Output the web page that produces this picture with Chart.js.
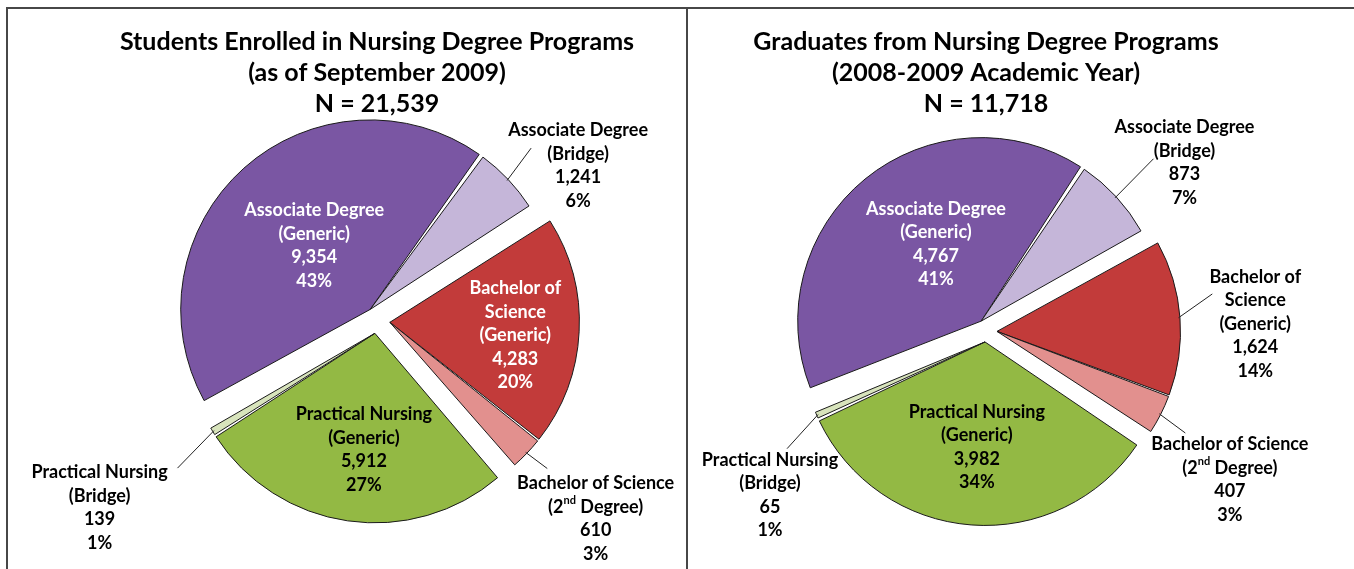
<!DOCTYPE html>
<html>
<head>
<meta charset="utf-8">
<title>Nursing Degree Programs</title>
<script src="https://cdn.jsdelivr.net/npm/chart.js@4.4.1/dist/chart.umd.min.js"></script>
<style>
  html, body { margin: 0; padding: 0; background: #fff; }
  body { width: 1354px; height: 569px; position: relative; overflow: hidden; }
  .rule { position: absolute; background: #474747; }
  #enrolledChart { position: absolute; left: 0; top: 0; }
  #graduatesChart { position: absolute; left: 618px; top: 0; }
</style>
</head>
<body>
<div class="rule" style="left:6px; top:7px; width:1348px; height:2px;"></div>
<div class="rule" style="left:6px; top:7px; width:2px; height:562px;"></div>
<div class="rule" style="left:686px; top:7px; width:2px; height:562px;"></div>
<canvas id="enrolledChart" width="754" height="569"></canvas>
<canvas id="graduatesChart" width="736" height="569"></canvas>
<script>
// categories (one entry per slice, each split into label lines)
const categories = [
    ['Associate Degree', '(Generic)'],
    ['Associate Degree', '(Bridge)'],
    ['Bachelor of', 'Science', '(Generic)'],
    ['Bachelor of Science', '(2nd Degree)'],
    ['Practical Nursing', '(Generic)'],
    ['Practical Nursing', '(Bridge)']
];
const enrolled = [9354, 1241, 4283, 610, 5912, 139];
const graduates = [4767, 873, 1624, 407, 3982, 65];

const enrolledTitle = ['Students Enrolled in Nursing Degree Programs', '(as of September 2009)', 'N = 21,539'];
const graduatesTitle = ['Graduates from Nursing Degree Programs', '(2008-2009 Academic Year)', 'N = 11,718'];

const sliceColors = ['#7a56a3', '#c5b6d9', '#c23b3a', '#e2908e', '#93b944', '#d8e4bc'];
// slices exploded together: associate / bachelor / practical
const sliceGroups = [0, 0, 1, 1, 2, 2];

const FONT = 'Lato, "Open Sans", sans-serif';

// label placement: angle in degrees (0 = right, clockwise), r as multiple of pie radius
const enrolledPlaces = [
    { angle: 230, r: 0.52, color: '#fff' },
    { angle: 322.4, r: 1.35, color: '#000', leader: [311.8, 1.23] },
    { angle: 6.2, r: 0.74, color: '#fff' },
    { angle: 42.2, r: 1.57, color: '#000', leader: [41, 1.2] },
    { angle: 95.8, r: 0.69, color: '#000' },
    { angle: 146, r: 1.78, color: '#000', leader: [143.5, 1.32] }
];
const graduatesPlaces = [
    { angle: 240, r: 0.55, color: '#fff' },
    { angle: 319.7, r: 1.43, color: '#000', leader: [314.2, 1.32] },
    { angle: -1.5, r: 1.48, color: '#000', leader: [-9.3, 1.26] },
    { angle: 31.4, r: 1.57, color: '#000', leader: [27.1, 1.23] },
    { angle: 94.5, r: 0.64, color: '#000' },
    { angle: 142.8, r: 1.49, color: '#000', leader: [149.4, 1.27] }
];

function groupMids(meta, groups) {
    const spans = {};
    meta.data.forEach((arc, i) => {
        const g = groups[i];
        if (!spans[g]) spans[g] = [arc.startAngle, arc.endAngle];
        else {
            spans[g][0] = Math.min(spans[g][0], arc.startAngle);
            spans[g][1] = Math.max(spans[g][1], arc.endAngle);
        }
    });
    return groups.map(g => (spans[g][0] + spans[g][1]) / 2);
}

// pulls each group of slices out from the centre as one piece
const groupShift = {
    id: 'groupShift',
    beforeDatasetDraw(chart, args, opts) {
        const meta = args.meta;
        const mids = groupMids(meta, opts.groups);
        meta.data.forEach((arc, i) => {
            arc._home = [arc.x, arc.y];
            arc.x += Math.cos(mids[i]) * opts.distance;
            arc.y += Math.sin(mids[i]) * opts.distance;
        });
    },
    afterDatasetDraw(chart, args) {
        args.meta.data.forEach(arc => {
            if (arc._home) { arc.x = arc._home[0]; arc.y = arc._home[1]; }
        });
    }
};

function drawLine(ctx, text, x, y, size) {
    // superscript ordinal like "2nd"
    const m = text.match(/^(.*?\d)(st|nd|rd|th)(\b.*)$/);
    if (!m) {
        ctx.font = 'bold ' + size + 'px ' + FONT;
        ctx.textAlign = 'center';
        ctx.fillText(text, x, y);
        return;
    }
    const big = 'bold ' + size + 'px ' + FONT;
    const small = 'bold ' + Math.round(size * 0.62) + 'px ' + FONT;
    ctx.font = big;
    const w1 = ctx.measureText(m[1]).width;
    const w3 = ctx.measureText(m[3]).width;
    ctx.font = small;
    const w2 = ctx.measureText(m[2]).width;
    let sx = x - (w1 + w2 + w3) / 2;
    ctx.textAlign = 'left';
    ctx.font = big;
    ctx.fillText(m[1], sx, y);
    ctx.font = small;
    ctx.fillText(m[2], sx + w1, y - size * 0.35);
    ctx.font = big;
    ctx.fillText(m[3], sx + w1 + w2, y);
}

const sliceLabels = {
    id: 'sliceLabels',
    afterDatasetsDraw(chart, args, opts) {
        const { ctx, chartArea } = chart;
        const meta = chart.getDatasetMeta(0);
        const values = chart.data.datasets[0].data;
        const total = values.reduce((a, b) => a + b, 0);
        const cx = (chartArea.left + chartArea.right) / 2;
        const cy = (chartArea.top + chartArea.bottom) / 2;
        const R = meta.data[0].outerRadius;
        const mids = groupMids(meta, opts.groups);
        const lh = opts.lineHeight;
        ctx.save();
        meta.data.forEach((arc, i) => {
            const p = opts.places[i];
            const lines = [].concat(chart.data.labels[i],
                values[i].toLocaleString('en-US'),
                Math.round(values[i] / total * 100) + '%');
            const a = p.angle * Math.PI / 180;
            const lx = cx + Math.cos(a) * p.r * R;
            const ly = cy + Math.sin(a) * p.r * R;
            if (p.leader) {
                const m = (arc.startAngle + arc.endAngle) / 2;
                const sx = cx + Math.cos(m) * R + Math.cos(mids[i]) * opts.distance;
                const sy = cy + Math.sin(m) * R + Math.sin(mids[i]) * opts.distance;
                const la = p.leader[0] * Math.PI / 180;
                ctx.beginPath();
                ctx.moveTo(sx, sy);
                ctx.lineTo(cx + Math.cos(la) * p.leader[1] * R, cy + Math.sin(la) * p.leader[1] * R);
                ctx.strokeStyle = '#222';
                ctx.lineWidth = 1;
                ctx.stroke();
            }
            ctx.fillStyle = p.color;
            ctx.textBaseline = 'middle';
            const top = ly - (lines.length - 1) * lh / 2;
            lines.forEach((t, k) => drawLine(ctx, t, lx, top + k * lh, opts.fontSize));
        });
        ctx.restore();
    }
};

function makePie(id, values, title, rotation, radius, distance, places, bottomPad) {
    return new Chart(document.getElementById(id), {
        type: 'pie',
        data: {
            labels: categories,
            datasets: [{
                data: values,
                backgroundColor: sliceColors,
                borderColor: '#1a1a1a',
                borderWidth: 1,
                spacing: 3,
                radius: radius,
                clip: false
            }]
        },
        options: {
            responsive: false,
            animation: false,
            rotation: rotation,
            layout: { padding: { left: 0, right: 0, top: 0, bottom: bottomPad } },
            plugins: {
                legend: { display: false },
                tooltip: { enabled: false },
                title: {
                    display: true,
                    text: title,
                    color: '#000',
                    font: { family: FONT, size: 25, weight: 'bold', lineHeight: 1.24 },
                    padding: { top: 26, bottom: 0 }
                },
                groupShift: { groups: sliceGroups, distance: distance },
                sliceLabels: { groups: sliceGroups, distance: distance, places: places, fontSize: 18, lineHeight: 23.5 }
            }
        },
        plugins: [groupShift, sliceLabels]
    });
}

makePie('enrolledChart', enrolled, enrolledTitle, 240, 188, 13, enrolledPlaces, 47);
makePie('graduatesChart', graduates, graduatesTitle, 247.5, 182, 11, graduatesPlaces, 26);
</script>
</body>
</html>
